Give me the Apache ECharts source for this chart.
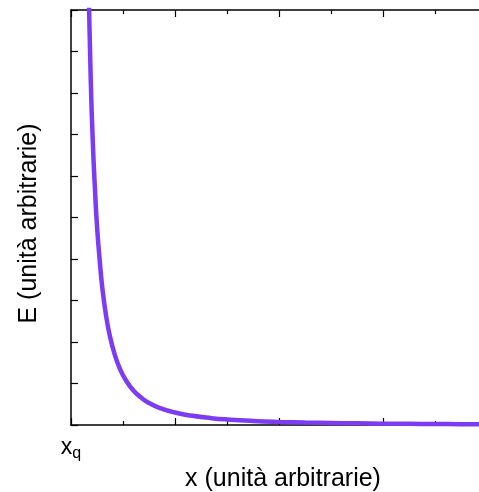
<!DOCTYPE html>
<html>
<head>
<meta charset="utf-8">
<script src="https://cdn.jsdelivr.net/npm/echarts@6/dist/echarts.min.js"></script>
<style>
  html, body { margin: 0; padding: 0; background: #fff; }
  #chart { width: 479px; height: 492px; }
</style>
</head>
<body>
<div id="chart"></div>
<script>
// Energy vs. distance from the charge x_q (arbitrary units)
const xValues = [0.34, 0.38, 0.42, 0.46, 0.50, 0.55, 0.60, 0.67, 0.75, 0.85, 0.95, 1.05, 1.20, 1.35, 1.50, 1.70, 2.00, 2.30, 2.70, 3.00, 3.50, 4.00, 4.50, 5.00, 5.50, 6.00, 6.50, 7.00, 7.50, 8.00];
const eValues = [10.4, 8.3, 6.8, 5.7, 4.8, 4.0, 3.33, 2.67, 2.13, 1.66, 1.33, 1.09, 0.83, 0.66, 0.53, 0.415, 0.30, 0.227, 0.165, 0.133, 0.098, 0.075, 0.059, 0.048, 0.040, 0.033, 0.028, 0.024, 0.021, 0.019];
const originLabel = { main: 'x', sub: 'q' };
const xTitle = 'x (unità arbitrarie)';
const yTitle = 'E (unità arbitrarie)';

const FONT = '"Liberation Sans", Arial, Helvetica, sans-serif';
const points = xValues.map((x, i) => [x, eValues[i]]);

const axisLine = { show: true, lineStyle: { color: '#000', width: 1.5 } };
const majorTick = { show: true, inside: true, length: 7, lineStyle: { color: '#000', width: 1.2 } };
const minorTick = { show: true, splitNumber: 2, length: 4, lineStyle: { color: '#000', width: 1.2 } };

const chart = echarts.init(document.getElementById('chart'), null, { renderer: 'canvas' });
chart.setOption({
  animation: false,
  backgroundColor: '#fff',
  // the plot runs past the right edge of the canvas, so keep the grid box as given
  grid: { left: 71, top: 10, width: 416, height: 415, containLabel: false, outerBoundsMode: 'none' },
  xAxis: [
    {
      type: 'value', position: 'bottom', min: 0, max: 8, interval: 2,
      axisLine: axisLine,
      axisTick: majorTick,
      minorTick: minorTick,
      splitLine: { show: false },
      axisLabel: {
        show: true, margin: 9,
        formatter: v => v === 0 ? '{b|' + originLabel.main + '}{s|' + originLabel.sub + '}' : '',
        rich: {
          b: { fontFamily: FONT, fontSize: 23, color: '#000' },
          s: { fontFamily: FONT, fontSize: 16, color: '#000', padding: [12, 0, 0, 0] }
        }
      },
      name: xTitle, nameLocation: 'middle', nameGap: 32,
      nameTextStyle: { fontFamily: FONT, fontSize: 25, color: '#000', padding: [0, 0, 0, 8] }
    },
    {
      type: 'value', position: 'top', min: 0, max: 8, interval: 2,
      axisLine: axisLine,
      axisTick: majorTick,
      minorTick: minorTick,
      splitLine: { show: false },
      axisLabel: { show: false }
    }
  ],
  yAxis: {
    type: 'value', min: 0, max: 10, interval: 1,
    axisLine: axisLine,
    axisTick: majorTick,
    splitLine: { show: false },
    axisLabel: { show: false },
    name: yTitle, nameLocation: 'middle', nameGap: 29,
    nameTextStyle: { fontFamily: FONT, fontSize: 25, color: '#000', padding: [0, 12, 0, 0] }
  },
  series: [{
    type: 'line',
    xAxisIndex: 0,
    data: points,
    smooth: true,
    showSymbol: false,
    clip: true,
    lineStyle: { color: '#7b3cf4', width: 4.5 }
  }]
});
</script>
</body>
</html>
